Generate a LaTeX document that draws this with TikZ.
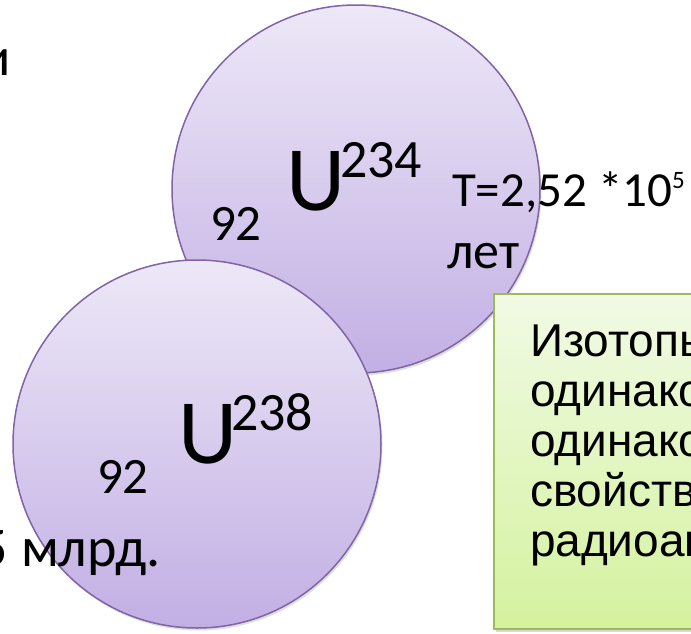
\documentclass[tikz,border=0pt]{standalone}
\usepackage{fontspec}
\setmainfont{Carlito}
\newfontfamily\arialf{Liberation Sans}
\usetikzlibrary{shadows}
\definecolor{circtop}{RGB}{237,232,247}
\definecolor{circbot}{RGB}{194,175,228}
\definecolor{circline}{RGB}{128,100,166}
\definecolor{boxtop}{RGB}{241,250,229}
\definecolor{boxbot}{RGB}{212,242,158}
\definecolor{boxline}{RGB}{155,187,89}
\tikzset{
  atom/.style={circle, draw=circline, line width=1.5pt, minimum size=368pt, inner sep=0pt,
    top color=circtop, bottom color=circbot,
    drop shadow={opacity=0.25, shadow xshift=1.5pt, shadow yshift=-2.5pt}},
  notebox/.style={rectangle, draw=boxline, line width=2pt, inner sep=0pt,
    top color=boxtop, bottom color=boxbot,
    drop shadow={opacity=0.3, shadow xshift=1.5pt, shadow yshift=-2.5pt}},
  txt/.style={anchor=base west, inner sep=0pt, outer sep=0pt, text=black},
  boxtxt/.style={txt, font=\arialf\fontsize{46}{46}\selectfont},
}
\begin{document}
\begin{tikzpicture}[x=1pt,y=-1pt]
\useasboundingbox (0,0) rectangle (691,633);
\clip (0,0) rectangle (691,633);
% circles
\node[atom] (c1) at (356,189) {};
\node[atom] (c2) at (197,444) {};
% note box
\node[notebox, minimum width=220pt, minimum height=335pt, anchor=north west] (box) at (493,293) {};
% texts in top circle
\node[txt, font=\fontsize{51}{51}\selectfont] (z1) at (210,240) {92};
\node[txt, font=\fontsize{92}{92}\selectfont] (u1) at (286,210) {U};
\node[txt, font=\fontsize{54}{54}\selectfont] (a1) at (340,177) {234};
\node[txt, font=\fontsize{49}{49}\selectfont] (t1) at (452,206) {T=2,52 *10\raisebox{18pt}{\fontsize{25}{25}\selectfont 5}};
\node[txt, font=\fontsize{52}{52}\selectfont] (l1) at (447,268) {лет};
% texts in bottom circle
\node[txt, font=\fontsize{51}{51}\selectfont] (z2) at (97,493) {92};
\node[txt, font=\fontsize{92}{92}\selectfont] (u2) at (178,463) {U};
\node[txt, font=\fontsize{54}{54}\selectfont] (a2) at (231,430) {238};
% left fragments
\node[txt, font=\fontsize{54}{54}\selectfont] (i1) at (-18,75) {и};
\node[txt, font=\fontsize{56}{56}\selectfont] (m1) at (-20,566) {5 млрд.};
% box text
\node[boxtxt] (b1) at (530,356) {Изотопы};
\node[boxtxt] (b2) at (530,406) {одинаков};
\node[boxtxt] (b3) at (530,456) {одинаков};
\node[boxtxt] (b4) at (530,506) {свойства};
\node[boxtxt] (b5) at (530,556) {радиоак};
\end{tikzpicture}
\end{document}
